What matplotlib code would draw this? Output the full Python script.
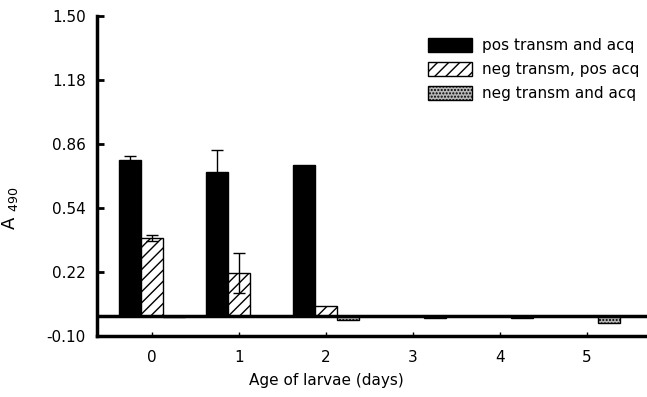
import matplotlib.pyplot as plt
import matplotlib.patches as mpatches
import numpy as np

plt.rcParams['font.family'] = ['DejaVu Sans']
plt.rcParams['hatch.linewidth'] = 1.0

days = [0, 1, 2, 3, 4, 5]
pos_both = [0.78, 0.72, 0.755, 0.0, 0.0, 0.0]
pos_both_err = [0.02, 0.11, 0.0, 0.0, 0.0, 0.0]
neg_pos = [0.39, 0.215, 0.05, 0.0, 0.0, 0.0]
neg_pos_err = [0.015, 0.10, 0.0, 0.0, 0.0, 0.0]
neg_both = [-0.005, 0.0, -0.02, -0.01, -0.012, -0.035]

labels = ['pos transm and acq', 'neg transm, pos acq', 'neg transm and acq']
yticks = [-0.10, 0.22, 0.54, 0.86, 1.18, 1.50]

fig = plt.figure(figsize=(6.47, 3.97), dpi=100)
ax = fig.add_axes([97 / 647, 61 / 397, 550 / 647, 320 / 397])

x = np.array(days)
w = 0.25
gray = '#b8b8b8'

ax.bar(x - w, pos_both, w, color='black', edgecolor='black', lw=1)
ax.bar(x, neg_pos, w, color='white', edgecolor='black', hatch='///', lw=1)
ax.bar(x + w, neg_both, w, color=gray, edgecolor='black', hatch='.....', lw=1)

# error bars only where there is one
e1 = np.array(pos_both_err) > 0
ax.errorbar((x - w)[e1], np.array(pos_both)[e1], yerr=np.array(pos_both_err)[e1],
            fmt='none', ecolor='black', elinewidth=1, capsize=4, capthick=1)
e2 = np.array(neg_pos_err) > 0
ax.errorbar(x[e2], np.array(neg_pos)[e2], yerr=np.array(neg_pos_err)[e2],
            fmt='none', ecolor='black', elinewidth=1, capsize=4, capthick=1)

ax.axhline(0, color='black', lw=2.5, zorder=5)

ax.set_xlim(-0.632, -0.632 + 550 / 87)
ax.set_ylim(-0.10, 1.50)
ax.set_yticks(yticks)
ax.set_yticklabels(['%.2f' % v for v in yticks])
ax.set_xticks(days)

for s in ['top', 'right']:
    ax.spines[s].set_visible(False)
ax.spines['left'].set_linewidth(2.5)
ax.spines['bottom'].set_linewidth(2.5)
ax.tick_params(axis='y', direction='in', length=5, width=2, labelsize=11, pad=8)
ax.tick_params(axis='x', direction='in', length=3, width=1, labelsize=11, pad=10)

ax.set_xlabel('Age of larvae (days)', fontsize=11)
ax.xaxis.set_label_coords((326 - 97) / 550, -0.117)
ax.set_ylabel('A $_{\\mathit{490}}$', fontsize=13)
ax.yaxis.set_label_coords((20 - 97) / 550, 0.4)

handles = [
    mpatches.Patch(facecolor='black', edgecolor='black'),
    mpatches.Patch(facecolor='white', edgecolor='black', hatch='///'),
    mpatches.Patch(facecolor=gray, edgecolor='black', hatch='.....'),
]
ax.legend(handles, labels, loc='upper left', bbox_to_anchor=(0.602, 0.932),
          frameon=False, fontsize=11, handlelength=2.9, handleheight=1.1,
          labelspacing=0.55, handletextpad=0.65, borderpad=0, borderaxespad=0)

fig.savefig('out.png', dpi=100)
